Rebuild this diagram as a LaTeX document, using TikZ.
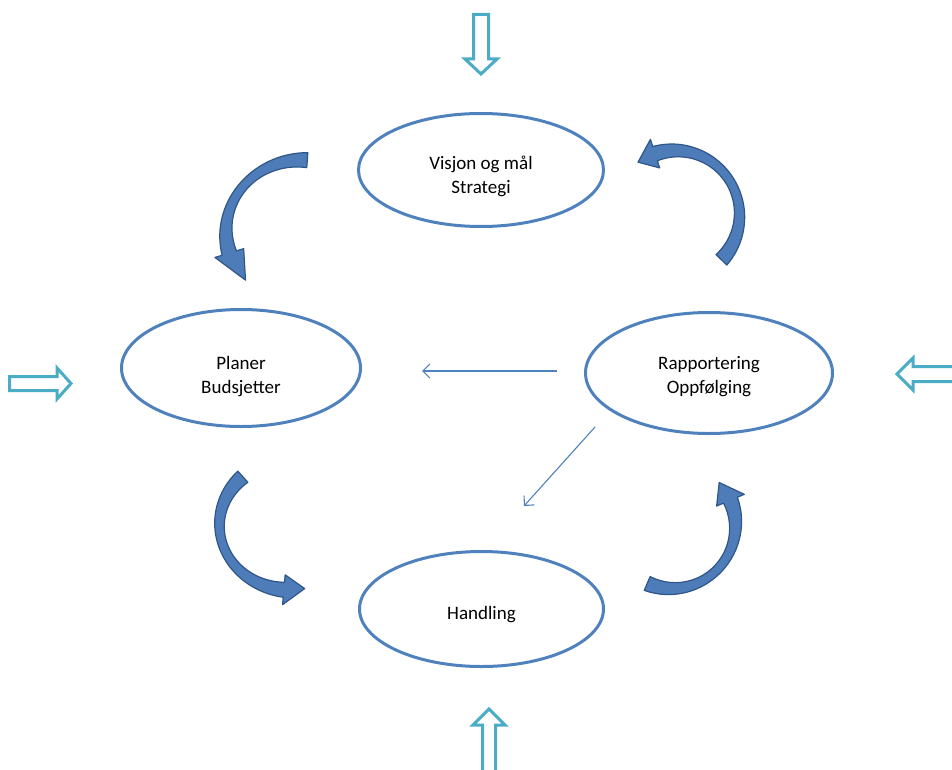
\documentclass[tikz,border=0pt]{standalone}
\usepackage{fontspec}
\setmainfont{Carlito}
\usetikzlibrary{shapes.geometric,arrows.meta,calc}
\definecolor{ellblue}{HTML}{4F81BD}
\definecolor{cyanarrow}{HTML}{4BACC6}
\definecolor{bandfill}{HTML}{4D7CB8}
\definecolor{bandedge}{HTML}{2F5689}
% cx cy rx ry tail-angle head-base-angle tip-angle band-width head-halfwidth
\newcommand\CurvedBand[9]{%
  \filldraw[bandarrow]
    plot[domain=#5:#6,samples=60] ({#1+(#3+#8*(1-0.4*sin((180/((#6)-(#5)))*(\x-(#5))))/2)*cos(\x)},{#2+(#4+#8*(1-0.4*sin((180/((#6)-(#5)))*(\x-(#5))))/2)*sin(\x)})
    -- ({#1+(#3+#9)*cos(#6)},{#2+(#4+#9)*sin(#6)})
    -- ({#1+#3*cos(#7)},{#2+#4*sin(#7)})
    -- ({#1+(#3-#9)*cos(#6)},{#2+(#4-#9)*sin(#6)})
    -- plot[domain=#6:#5,samples=60] ({#1+(#3-#8*(1-0.4*sin((180/((#6)-(#5)))*(\x-(#5))))/2)*cos(\x)},{#2+(#4-#8*(1-0.4*sin((180/((#6)-(#5)))*(\x-(#5))))/2)*sin(\x)})
    -- cycle;}
\begin{document}
\begin{tikzpicture}[x=1pt,y=-1pt,
  ellnode/.style={ellipse, draw=ellblue, line width=3pt, fill=white, inner sep=0pt},
  txt/.style={align=center, inner sep=0pt, font=\fontsize{19}{24}\selectfont},
  hollow/.style={draw=cyanarrow, line width=3pt, fill=white, line join=miter},
  thinarrow/.style={draw=ellblue, line width=1.1pt, -{Straight Barb[length=7pt,width=14pt]}},
  bandarrow/.style={fill=bandfill, draw=bandedge, line width=1.2pt, line join=round}]
\useasboundingbox (0,0) rectangle (952,770);

% ellipses
\node[ellnode, minimum width=245, minimum height=113] (vis) at (481,170) {};
\node[ellnode, minimum width=239, minimum height=117] (plan) at (241,368) {};
\node[ellnode, minimum width=247, minimum height=121] (rap) at (709,373) {};
\node[ellnode, minimum width=244, minimum height=115] (hand) at (481.5,609) {};
\node[txt] (visT) at ($(vis.center)+(0,6)$) {Visjon og mål\\Strategi};
\node[txt] (planT) at ($(plan.center)+(0,9)$) {Planer\\Budsjetter};
\node[txt] (rapT) at ($(rap.center)+(0,4)$) {Rapportering\\Oppfølging};
\node[txt] (handT) at ($(hand.center)+(0,6)$) {Handling};

% hollow block arrows
\draw[hollow] (473.5,14.5) -- (488.5,14.5) -- (488.5,59) -- (497,59) -- (481,74) -- (465,59) -- (473.5,59) -- cycle;
\draw[hollow] (9.5,376.5) -- (57,376.5) -- (57,368) -- (71,383.5) -- (57,399) -- (57,390.5) -- (9.5,390.5) -- cycle;
\draw[hollow] (956,366.5) -- (913,366.5) -- (913,358) -- (897,374) -- (913,390) -- (913,381.5) -- (956,381.5);
\draw[hollow] (482.5,773) -- (482.5,725) -- (473,725) -- (489,709) -- (505,725) -- (495.5,725) -- (495.5,773);

% thin arrows
\coordinate (rapW) at (557,371);
\coordinate (planE) at (422,371);
\coordinate (rapSW) at (595,427);
\coordinate (handN) at (524,506);
\draw[thinarrow] (rapW) -- (planE);
\draw[thinarrow] (rapSW) -- (handN);

% curved arrows
\CurvedBand{302}{232}{76}{72}{-86}{-197}{-222}{15}{15}
\CurvedBand{675}{215}{64.5}{64.5}{44}{-108}{-125}{15}{15}
\CurvedBand{290}{525}{70.5}{65}{228}{95}{78}{15}{15}
\CurvedBand{672}{525}{63.5}{63.5}{113}{-23}{-42}{15}{15}
\end{tikzpicture}
\end{document}
